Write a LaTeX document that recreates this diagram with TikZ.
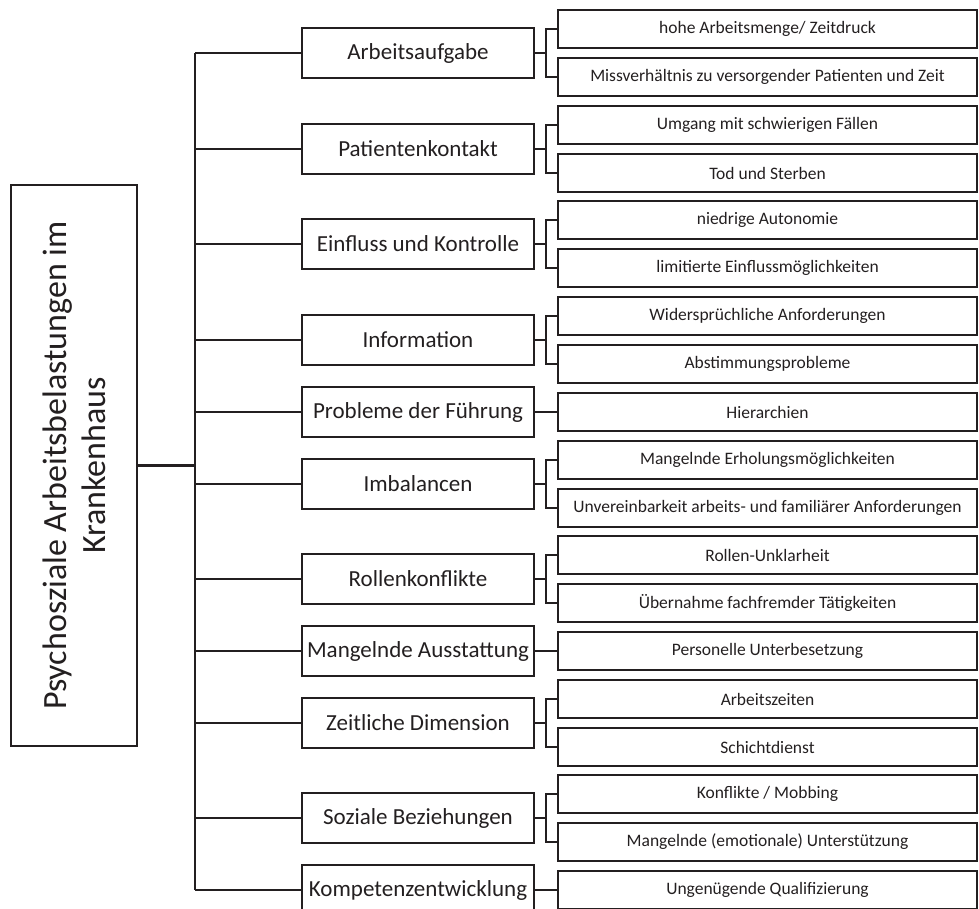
\documentclass[tikz,border=0pt]{standalone}
\usepackage{fontspec}
\setmainfont{Carlito}
\definecolor{ink}{HTML}{231F20}
\begin{document}
\begin{tikzpicture}[x=1pt,y=-1pt,
  rootbox/.style={draw=ink, line width=1.8pt, rotate=90, minimum width=561pt, minimum height=126pt, inner sep=0pt, align=center, text=ink, font=\fontsize{34}{39}\selectfont},
  midbox/.style={draw=ink, line width=1.8pt, minimum width=232pt, minimum height=50pt, inner sep=0pt, text=ink, font=\fontsize{23}{27}\selectfont},
  leafbox/.style={draw=ink, line width=2.2pt, minimum width=419pt, minimum height=38pt, inner sep=0pt, text=ink, font=\fontsize{17.5}{20}\selectfont},
  conn/.style={draw=ink, line width=1.8pt}]
\useasboundingbox (0,0) rectangle (979,909);

\node[rootbox] (root) at (74,465.5) {Psychosziale Arbeitsbelastungen im\\Krankenhaus};

\node[midbox] (m1) at (418,53) {Arbeitsaufgabe};
\node[midbox] (m2) at (418,149) {Patientenkontakt};
\node[midbox] (m3) at (418,244) {Einfluss und Kontrolle};
\node[midbox] (m4) at (418,340) {Information};
\node[midbox] (m5) at (418,412) {Probleme der Führung};
\node[midbox] (m6) at (418,484) {Imbalancen};
\node[midbox] (m7) at (418,579) {Rollenkonflikte};
\node[midbox] (m8) at (418,651) {Mangelnde Ausstattung};
\node[midbox] (m9) at (418,723) {Zeitliche Dimension};
\node[midbox] (m10) at (418,818) {Soziale Beziehungen};
\node[midbox] (m11) at (418,890) {Kompetenzentwicklung};

\node[leafbox] (a1) at (767.5,29) {hohe Arbeitsmenge/ Zeitdruck};
\node[leafbox] (b1) at (767.5,77) {Missverhältnis zu versorgender Patienten und Zeit};
\node[leafbox] (a2) at (767.5,125) {Umgang mit schwierigen Fällen};
\node[leafbox] (b2) at (767.5,173) {Tod und Sterben};
\node[leafbox] (a3) at (767.5,220) {niedrige Autonomie};
\node[leafbox] (b3) at (767.5,268) {limitierte Einflussmöglichkeiten};
\node[leafbox] (a4) at (767.5,316) {Widersprüchliche Anforderungen};
\node[leafbox] (b4) at (767.5,364) {Abstimmungsprobleme};
\node[leafbox] (a5) at (767.5,412) {Hierarchien};
\node[leafbox] (a6) at (767.5,460) {Mangelnde Erholungsmöglichkeiten};
\node[leafbox] (b6) at (767.5,508) {Unvereinbarkeit arbeits- und familiärer Anforderungen};
\node[leafbox] (a7) at (767.5,555) {Rollen-Unklarheit};
\node[leafbox] (b7) at (767.5,603) {Übernahme fachfremder Tätigkeiten};
\node[leafbox] (a8) at (767.5,651) {Personelle Unterbesetzung};
\node[leafbox] (a9) at (767.5,699) {Arbeitszeiten};
\node[leafbox] (b9) at (767.5,747) {Schichtdienst};
\node[leafbox] (a10) at (767.5,794) {Konflikte / Mobbing};
\node[leafbox] (b10) at (767.5,842) {Mangelnde (emotionale) Unterstützung};
\node[leafbox] (a11) at (767.5,890) {Ungenügende Qualifizierung};

% trunk
\coordinate (t1) at (195,53);
\coordinate (t11) at (195,890);
\draw[conn] (t1) -- (t11);
\draw[conn, line width=2.2pt] (root.south) -- (root.south -| t1);
\foreach \m in {1,...,11} {
  \draw[conn] (m\m.west -| t1) -- (m\m.west);
}
% brackets
\foreach \m in {1,2,3,4,6,7,9,10} {
  \draw[conn] (m\m.east) -- (m\m.east -| 546,0);
  \draw[conn] (a\m.west) -| (m\m.east -| 546,0) |- (b\m.west);
}
\foreach \m in {5,8,11} {
  \draw[conn] (m\m.east) -- (a\m.west);
}
\end{tikzpicture}
\end{document}
